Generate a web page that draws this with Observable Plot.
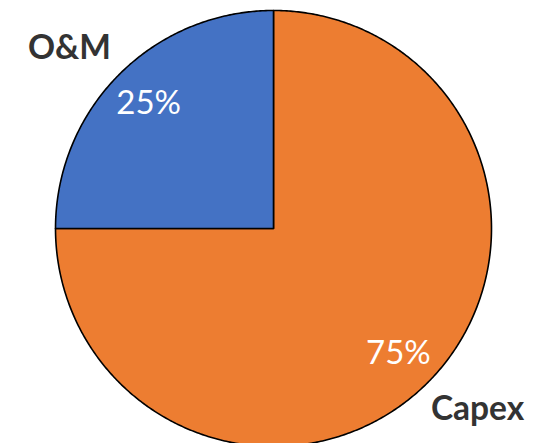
<!DOCTYPE html>
<html>
<head>
<meta charset="utf-8">
<script src="https://cdn.jsdelivr.net/npm/d3@7"></script>
<script src="https://cdn.jsdelivr.net/npm/@observablehq/plot@0.6"></script>
<style>
  html, body { margin: 0; padding: 0; background: #fff; }
  #chart svg { display: block; overflow: hidden; }
</style>
</head>
<body>
<div id="chart"></div>
<script>
// Data (slices in clockwise order starting at 12 o'clock)
const categories = ["Capex", "O&M"];
const shares = [75, 25];
const percentLabels = ["75%", "25%"];
const sliceColors = ["#ED7D31", "#4472C4"];

// Build slice outlines from the shares (angles clockwise from top)
const total = d3.sum(shares);
const slices = [];
const valueLabels = [];
const nameLabels = [];
let acc = 0;
categories.forEach((cat, i) => {
  const a0 = acc / total * 2 * Math.PI;
  acc += shares[i];
  const a1 = acc / total * 2 * Math.PI;
  slices.push({cat, x: 0, y: 0});
  const steps = Math.max(2, Math.ceil((a1 - a0) / (Math.PI / 360)));
  for (let k = 0; k <= steps; k++) {
    const a = a0 + (a1 - a0) * k / steps;
    slices.push({cat, x: Math.sin(a), y: Math.cos(a)});
  }
  const mid = (a0 + a1) / 2;
  valueLabels.push({cat, text: percentLabels[i], x: 0.81 * Math.sin(mid), y: 0.81 * Math.cos(mid)});
  const midOut = mid - 3.5 * Math.PI / 180;
  nameLabels.push({cat, text: cat, x: 1.25 * Math.sin(midOut), y: 1.25 * Math.cos(midOut)});
});

const chart = Plot.plot({
  width: 536,
  height: 443,
  x: {domain: [-1, 1], range: [55, 491], axis: null},
  y: {domain: [-1, 1], range: [446, 10], axis: null},
  color: {domain: categories, range: sliceColors},
  style: {background: "#fff"},
  marks: [
    Plot.line(slices, {x: "x", y: "y", z: "cat", fill: "cat", stroke: "#000", strokeWidth: 1.6, curve: "linear-closed"}),
    Plot.text(valueLabels, {x: "x", y: "y", text: "text", fill: "#fff", fontSize: 33, fontFamily: "Lato, 'Open Sans', sans-serif"}),
    Plot.text(nameLabels, {x: "x", y: "y", text: "text", fill: "#333", fontSize: 33.5, fontWeight: "bold", fontFamily: "Lato, 'Open Sans', sans-serif"})
  ]
});
document.getElementById("chart").appendChild(chart);
</script>
</body>
</html>
